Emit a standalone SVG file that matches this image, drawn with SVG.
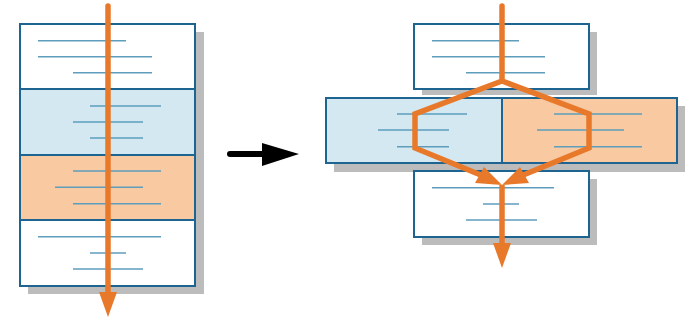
<svg xmlns="http://www.w3.org/2000/svg" width="690" height="321" viewBox="0 0 690 321">
<defs>
<style>
.shadow{fill:#bcbcbc}
.box{stroke:#1d6590;stroke-width:2}
.w{fill:#ffffff}
.b{fill:#d3e8f0}
.o{fill:#f9c9a2}
.t{stroke:#5f9dbd;stroke-width:1.4;fill:none}
.flow{stroke:#e8792a;stroke-width:5.5;fill:none;stroke-linejoin:miter}
</style>
</defs>
<rect width="690" height="321" fill="#ffffff"/>
<g id="left-stack">
<rect class="shadow" x="28" y="32" width="176" height="262"/>
<g id="left-sec1">
<rect class="box w" x="20" y="24" width="175" height="65"/>
<path class="t" d="M38 40.7H126M38 56.7H152M73 72.7H152"/>
</g>
<g id="left-sec2">
<rect class="box b" x="20" y="89" width="175" height="66"/>
<path class="t" d="M90 106H161M73 122H143M90 138H143"/>
</g>
<g id="left-sec3">
<rect class="box o" x="20" y="155" width="175" height="65"/>
<path class="t" d="M73 171H161M55 187.3H143M73 203.7H161"/>
</g>
<g id="left-sec4">
<rect class="box w" x="20" y="220" width="175" height="66"/>
<path class="t" d="M38 236.7H161M90 253H126M73 269H143"/>
</g>
</g>
<g id="right-top">
<rect class="shadow" x="422" y="32" width="175" height="63"/>
<rect class="box w" x="414" y="24" width="175" height="65"/>
<path class="t" d="M432 40.7H519M432 56.7H545M466 72.7H545"/>
</g>
<g id="right-middle">
<rect class="shadow" x="334" y="106" width="351" height="66"/>
<g id="right-mid-left">
<rect class="box b" x="326" y="98" width="176" height="65"/>
<path class="t" d="M397 114H467M378 130H449M397 146.7H449"/>
</g>
<g id="right-mid-right">
<rect class="box o" x="502" y="98" width="175" height="65"/>
<path class="t" d="M554 114H642M537 130H624M554 146.7H642"/>
</g>
</g>
<g id="right-bottom">
<rect class="shadow" x="422" y="179" width="175" height="66"/>
<rect class="box w" x="414" y="171" width="175" height="66"/>
<path class="t" d="M432 187.7H554M483 204H519M466 220H537"/>
</g>
<g id="connectors">
<path class="flow" d="M108 6V294" stroke-linecap="round"/>
<polygon points="99,292 117,292 108,317" fill="#e8792a"/>
<path d="M230 154H264" stroke="#000" stroke-width="6" stroke-linecap="round"/>
<polygon points="262,143 299,154 262,166" fill="#000"/>
<path class="flow" d="M502 6V81" stroke-linecap="round"/>
<path class="flow" d="M502 81L415 114V148L488 178"/>
<path class="flow" d="M502 81L589 114V148L516 178"/>
<polygon points="502,185 475,183 484,167" fill="#e8792a"/>
<polygon points="502,185 529,183 520,167" fill="#e8792a"/>
<path class="flow" d="M502 185V246"/>
<polygon points="493,243 511,243 502,268" fill="#e8792a"/>
</g>
</svg>
